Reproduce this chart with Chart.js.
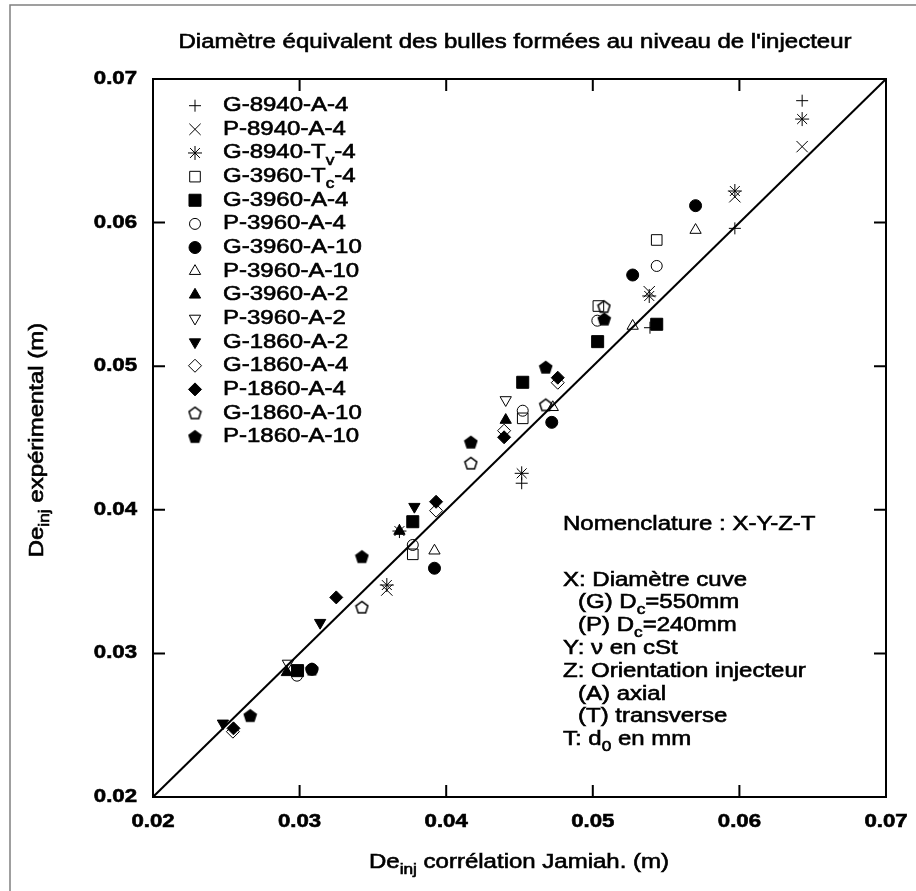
<!DOCTYPE html>
<html>
<head>
<meta charset="utf-8">
<script src="https://cdn.jsdelivr.net/npm/chart.js@4.4.1/dist/chart.umd.min.js"></script>
<style>
  body { margin: 0; background: #fff; }
  #wrap { position: relative; width: 916px; height: 891px; }
</style>
</head>
<body>
<div id="wrap"><canvas id="chart"></canvas></div>
<script>
// axis ticks
const xTicks = [0.02, 0.03, 0.04, 0.05, 0.06, 0.07];
const yTicks = [0.02, 0.03, 0.04, 0.05, 0.06, 0.07];

// measured points [De_inj correlation, De_inj experimental] in m
const g8940A4 = [[0.04515, 0.04185], [0.0539, 0.05268], [0.05969, 0.0596], [0.06428, 0.06849]];
const p8940A4 = [[0.03595, 0.03441], [0.05385, 0.05519], [0.05969, 0.0618], [0.06428, 0.06529]];
const g8940Tv4 = [[0.03595, 0.03476], [0.04515, 0.04254], [0.05385, 0.05489], [0.05969, 0.0622], [0.06428, 0.06721], [0.03681, 0.03852]];
const g3960Tc4 = [[0.03772, 0.0369], [0.04522, 0.04637], [0.05038, 0.05419], [0.05436, 0.05879]];
const g3960A4 = [[0.02986, 0.0288], [0.03772, 0.03917], [0.04522, 0.04888], [0.05033, 0.05171], [0.05436, 0.05292]];
const p3960A4 = [[0.02982, 0.02845], [0.03772, 0.03755], [0.04522, 0.0469], [0.05031, 0.05317], [0.05436, 0.05698]];
const g3960A10 = [[0.03084, 0.02889], [0.0392, 0.03593], [0.0472, 0.04609], [0.05272, 0.05635], [0.05701, 0.06118]];
const p3960A10 = [[0.0392, 0.03715], [0.04727, 0.04714], [0.05272, 0.0528], [0.05701, 0.05948]];
const g3960A2 = [[0.02913, 0.02868], [0.03681, 0.03852], [0.04406, 0.04625]];
const p3960A2 = [[0.0292, 0.0293], [0.04406, 0.04765]];
const g1860A2 = [[0.02477, 0.02513], [0.0314, 0.03214], [0.03783, 0.04022]];
const g1860A4 = [[0.02545, 0.02455], [0.03931, 0.03994], [0.04395, 0.04551], [0.04761, 0.04885]];
const p1860A4 = [[0.02549, 0.02478], [0.0325, 0.0339], [0.03931, 0.04056], [0.04395, 0.04505], [0.04761, 0.0492]];
const g1860A10 = [[0.03425, 0.03321], [0.04168, 0.04324], [0.04679, 0.0473], [0.05076, 0.05414]];
const p1860A10 = [[0.02663, 0.02566], [0.03084, 0.0289], [0.03425, 0.03673], [0.04168, 0.0447], [0.04679, 0.04992], [0.05078, 0.05327]];

// reference line y = x
const diagonal = [[0.02, 0.02], [0.07, 0.07]];

const nomenclature = [
  "X: Diamètre cuve",
  "   (G) D{c}=550mm",
  "   (P) D{c}=240mm",
  "Y: ν en cSt",
  "Z: Orientation injecteur",
  "   (A) axial",
  "   (T) transverse",
  "T: d{0} en mm"
];

const FONT = '"Liberation Sans", Arial, sans-serif';
const SX = 1.2;   // the original lettering is wide

function pentagon(filled) {
  const c = document.createElement('canvas');
  c.width = 15; c.height = 15;
  const g = c.getContext('2d');
  g.beginPath();
  for (let k = 0; k < 5; k++) {
    const a = -Math.PI / 2 + k * 2 * Math.PI / 5;
    const px = 7.5 + 6.3 * Math.cos(a), py = 8 + 6.3 * Math.sin(a);
    if (k === 0) g.moveTo(px, py); else g.lineTo(px, py);
  }
  g.closePath();
  g.lineWidth = 1.5;
  if (filled) { g.fillStyle = '#000'; g.fill(); }
  g.strokeStyle = '#000';
  g.stroke();
  return c;
}
const pentOpen = pentagon(false);
const pentFull = pentagon(true);

const series = [
  { label: 'G-8940-A-4', data: g8940A4, style: 'cross', r: 6, fill: false },
  { label: 'P-8940-A-4', data: p8940A4, style: 'crossRot', r: 8, fill: false },
  { label: 'G-8940-T{v}-4', data: g8940Tv4, style: 'star', r: 7, fill: false },
  { label: 'G-3960-T{c}-4', data: g3960Tc4, style: 'rect', r: 7.5, fill: false },
  { label: 'G-3960-A-4', data: g3960A4, style: 'rect', r: 8.5, fill: true },
  { label: 'P-3960-A-4', data: p3960A4, style: 'circle', r: 5.5, fill: false },
  { label: 'G-3960-A-10', data: g3960A10, style: 'circle', r: 6, fill: true },
  { label: 'P-3960-A-10', data: p3960A10, style: 'triangle', r: 6.5, fill: false },
  { label: 'G-3960-A-2', data: g3960A2, style: 'triangle', r: 6.5, fill: true },
  { label: 'P-3960-A-2', data: p3960A2, style: 'triangle', r: 6.5, fill: false, rot: 180 },
  { label: 'G-1860-A-2', data: g1860A2, style: 'triangle', r: 6.5, fill: true, rot: 180 },
  { label: 'G-1860-A-4', data: g1860A4, style: 'rectRot', r: 6.5, fill: false },
  { label: 'P-1860-A-4', data: p1860A4, style: 'rectRot', r: 6.5, fill: true },
  { label: 'G-1860-A-10', data: g1860A10, style: pentOpen, r: 7, fill: false },
  { label: 'P-1860-A-10', data: p1860A10, style: pentFull, r: 7, fill: true }
];

const toXY = arr => arr.map(p => ({ x: p[0], y: p[1] }));

const datasets = [{
  type: 'line',
  data: toXY(diagonal),
  borderColor: '#000',
  borderWidth: 2,
  pointRadius: 0,
  order: 0
}];
series.forEach(s => {
  datasets.push({
    type: 'scatter',
    label: s.label,
    data: toXY(s.data),
    pointStyle: s.style,
    pointRadius: s.r,
    pointHoverRadius: s.r,
    pointRotation: s.rot || 0,
    pointBorderWidth: 1,
    pointBorderColor: '#000',
    pointBackgroundColor: s.fill ? '#000' : 'rgba(0,0,0,0)'
  });
});

// text with {subscript} parts, stretched horizontally and slightly thickened
function richText(ctx, text, x, y, size, align, bold, rotate, sx) {
  const parts = [];
  text.split(/(\{[^}]*\})/).forEach(t => {
    if (!t) return;
    if (t[0] === '{') parts.push({ t: t.slice(1, -1), sub: true });
    else parts.push({ t: t, sub: false });
  });
  const font = p => (bold ? 'bold ' : '') + (p.sub ? size * 0.72 : size) + 'px ' + FONT;
  ctx.save();
  ctx.translate(x, y);
  if (rotate) ctx.rotate(rotate);
  ctx.scale(sx || SX, 1);
  ctx.fillStyle = '#000';
  ctx.strokeStyle = '#000';
  ctx.lineWidth = 0.6;
  ctx.textBaseline = 'middle';
  ctx.textAlign = 'left';
  let w = 0;
  parts.forEach(p => { ctx.font = font(p); w += ctx.measureText(p.t).width; });
  let cx = align === 'center' ? -w / 2 : (align === 'right' ? -w : 0);
  parts.forEach(p => {
    ctx.font = font(p);
    const dy = p.sub ? size * 0.38 : 0;
    ctx.fillText(p.t, cx, dy);
    ctx.strokeText(p.t, cx, dy);
    cx += ctx.measureText(p.t).width;
  });
  ctx.restore();
}

const decor = {
  id: 'decor',
  afterDraw(chart) {
    const ctx = chart.ctx;
    const a = chart.chartArea;
    const xs = chart.scales.x, ys = chart.scales.y;

    // outer frame of the picture
    ctx.save();
    ctx.strokeStyle = '#808080';
    ctx.lineWidth = 1.5;
    ctx.beginPath();
    ctx.moveTo(10, 891); ctx.lineTo(10, 5); ctx.lineTo(916, 5);
    ctx.stroke();

    // plot box and inward ticks on all sides
    ctx.strokeStyle = '#000';
    ctx.lineWidth = 2;
    ctx.strokeRect(a.left, a.top, a.right - a.left, a.bottom - a.top);
    ctx.beginPath();
    xTicks.forEach(v => {
      const px = xs.getPixelForValue(v);
      ctx.moveTo(px, a.bottom); ctx.lineTo(px, a.bottom - 12);
      ctx.moveTo(px, a.top); ctx.lineTo(px, a.top + 12);
    });
    yTicks.forEach(v => {
      const py = ys.getPixelForValue(v);
      ctx.moveTo(a.left, py); ctx.lineTo(a.left + 12, py);
      ctx.moveTo(a.right, py); ctx.lineTo(a.right - 12, py);
    });
    ctx.stroke();
    ctx.restore();

    // tick labels
    xTicks.forEach(v => richText(ctx, v.toFixed(2), xs.getPixelForValue(v), a.bottom + 25, 18.5, 'center', true, 0, 1.2));
    yTicks.forEach(v => richText(ctx, v.toFixed(2), a.left - 16, ys.getPixelForValue(v), 18.5, 'right', true, 0, 1.2));

    // titles
    richText(ctx, "Diamètre équivalent des bulles formées au niveau de l'injecteur", 515, 42, 20, 'center');
    richText(ctx, 'De{inj} corrélation Jamiah. (m)', 519, 862, 20, 'center');
    richText(ctx, 'De{inj} expérimental (m)', 37, 440, 20, 'center', false, -Math.PI / 2);

    // legend
    series.forEach((s, i) => {
      const y = 105.7 + i * 23.64;
      ctx.save();
      ctx.lineWidth = 1;
      ctx.strokeStyle = '#000';
      ctx.fillStyle = s.fill ? '#000' : 'rgba(0,0,0,0)';
      Chart.helpers.drawPoint(ctx, { pointStyle: s.style, radius: s.r, rotation: s.rot || 0, borderWidth: 1 }, 195, y);
      ctx.restore();
      richText(ctx, s.label, 223, y, 20, 'left');
    });

    // nomenclature block
    richText(ctx, 'Nomenclature : X-Y-Z-T', 563, 524, 20, 'left');
    nomenclature.forEach((line, i) => {
      const indent = line.startsWith('   ');
      richText(ctx, line.trim(), indent ? 578 : 563, 580 + i * 22.8, 20, 'left');
    });
  }
};

new Chart(document.getElementById('chart'), {
  type: 'scatter',
  data: { datasets: datasets },
  options: {
    responsive: true,
    maintainAspectRatio: false,
    animation: false,
    layout: { padding: { left: 153, right: 30, top: 79, bottom: 94 } },
    scales: {
      x: { type: 'linear', min: 0.02, max: 0.07, display: false },
      y: { type: 'linear', min: 0.02, max: 0.07, display: false }
    },
    plugins: { legend: { display: false }, tooltip: { enabled: false } }
  },
  plugins: [decor]
});
</script>
</body>
</html>
